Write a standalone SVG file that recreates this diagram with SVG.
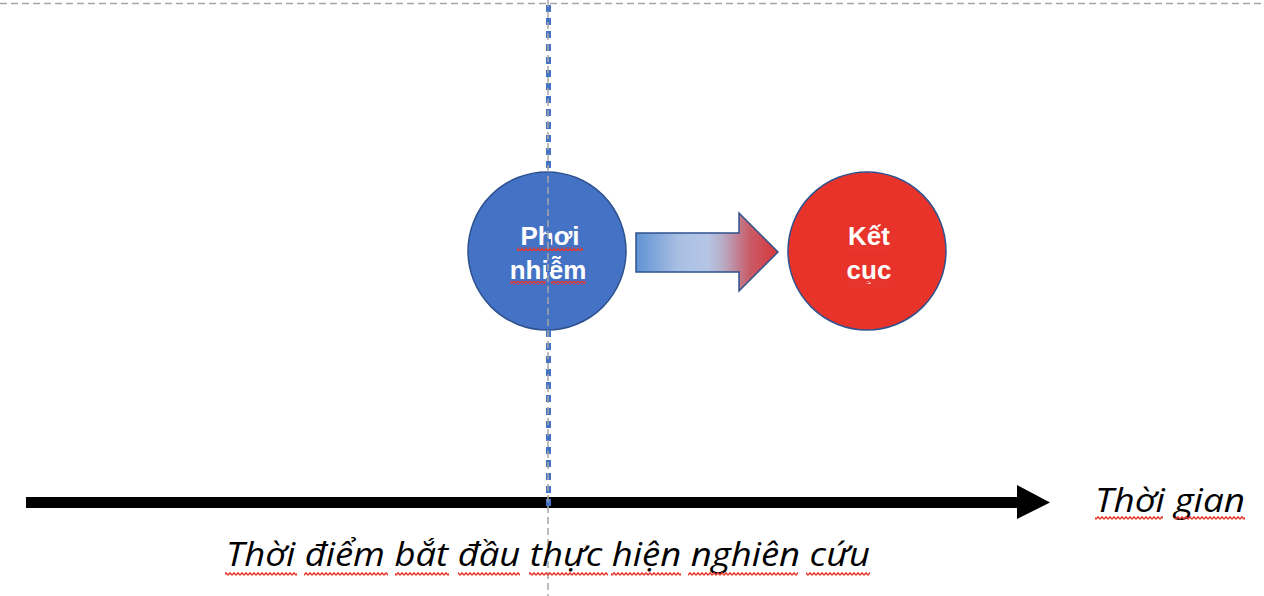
<svg xmlns="http://www.w3.org/2000/svg" width="1264" height="596" viewBox="0 0 1264 596">
<defs>
<style>
.guide{stroke:#A6A6A6;stroke-width:1.5;stroke-dasharray:7 4;fill:none}
.node{stroke:#2F528F;stroke-width:1.5}
.lbl{font-family:"Liberation Sans",Arial,sans-serif;font-weight:bold;font-size:26px;fill:#FFFFFF;text-anchor:middle}
.ital{font-family:"Open Sans","Noto Sans",sans-serif;font-style:italic;font-size:32px;fill:#000000}
.sq{fill:url(#squig)}
</style>
<pattern id="squig" x="0" y="0" width="4" height="4" patternUnits="userSpaceOnUse">
<path d="M0,3.2 L2,0.8 L4,3.2" stroke="#E5382E" stroke-width="1.4" fill="none"/>
</pattern>
<linearGradient id="arrowGrad" x1="636" y1="0" x2="778" y2="0" gradientUnits="userSpaceOnUse">
<stop offset="0" stop-color="#5F93D3"/>
<stop offset="0.3" stop-color="#A9BFE3"/>
<stop offset="0.5" stop-color="#B4C6E6"/>
<stop offset="0.62" stop-color="#B9A9C2"/>
<stop offset="0.8" stop-color="#C85C68"/>
<stop offset="1" stop-color="#D8373A"/>
</linearGradient>
</defs>
<rect width="1264" height="596" fill="#FFFFFF"/>
<line class="guide" x1="0" y1="3.5" x2="1264" y2="3.5"/>

<g id="node-phoi-nhiem">
<circle class="node" cx="547" cy="251" r="79" fill="#4472C4"/>
<text class="lbl" x="550" y="245">Phơi</text>
<text class="lbl" x="548" y="279">nhiễm</text>
<rect class="sq" x="517" y="247" width="66" height="4"/>
<rect class="sq" x="510" y="281" width="76" height="4"/>
</g>

<g id="node-ket-cuc">
<circle class="node" cx="867" cy="251" r="79" fill="#E8332A"/>
<text class="lbl" x="869" y="245">Kết</text>
<text class="lbl" x="869" y="279">cục</text>
<rect class="sq" x="847" y="246" width="46" height="4"/>
<rect class="sq" x="847" y="281" width="46" height="4"/>
</g>

<g id="connectors">
<polygon class="node" points="636,233 739,233 739,213 778,252 739,291 739,272 636,272" fill="url(#arrowGrad)"/>
<rect x="26" y="497" width="994" height="11" fill="#000000"/>
<polygon points="1017,485 1050,502.5 1017,519" fill="#000000"/>
</g>

<g id="start-marker">
<line x1="548.5" y1="5" x2="548.5" y2="506" stroke="#4472C4" stroke-width="5" stroke-dasharray="7 6"/>
<line class="guide" x1="548" y1="0" x2="548" y2="596"/>
</g>

<g id="label-thoi-gian">
<text class="ital" x="1095" y="512" textLength="150" lengthAdjust="spacingAndGlyphs">Thời gian</text>
<rect class="sq" x="1095" y="516" width="68" height="4"/>
<rect class="sq" x="1175" y="516" width="70" height="4"/>
</g>

<g id="label-start">
<text class="ital" x="226" y="566" textLength="644" lengthAdjust="spacingAndGlyphs">Thời điểm bắt đầu thực hiện nghiên cứu</text>
<rect class="sq" x="225" y="572" width="72" height="4"/>
<rect class="sq" x="304" y="572" width="84" height="4"/>
<rect class="sq" x="395" y="572" width="54" height="4"/>
<rect class="sq" x="458" y="572" width="62" height="4"/>
<rect class="sq" x="529" y="572" width="79" height="4"/>
<rect class="sq" x="611" y="572" width="70" height="4"/>
<rect class="sq" x="688" y="572" width="110" height="4"/>
<rect class="sq" x="806" y="572" width="64" height="4"/>
</g>
</svg>
